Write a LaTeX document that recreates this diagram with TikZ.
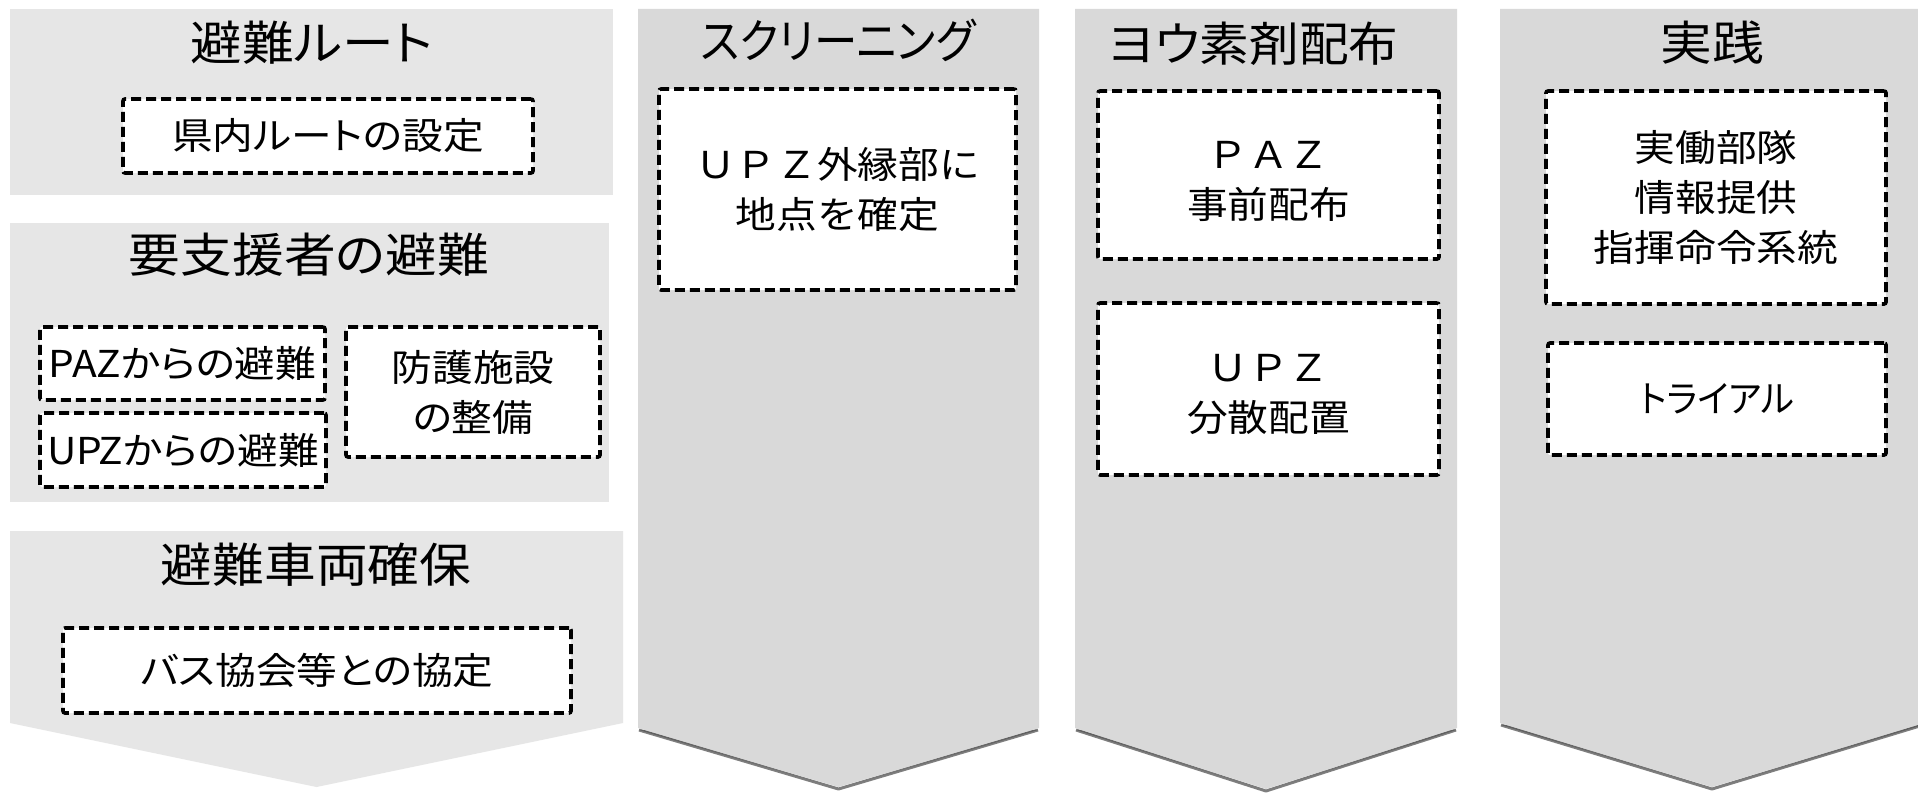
\documentclass[tikz,border=0pt]{standalone}
\usepackage{fontspec}
\newfontfamily\jp[FakeStretch=1.1]{Noto Sans CJK JP}
\newfontfamily\jpp[FakeStretch=1.1,RawFeature=+palt]{Noto Sans CJK JP}
\definecolor{panelA}{HTML}{E6E6E6}
\definecolor{panelB}{HTML}{D9D9D9}
\definecolor{shade}{HTML}{8C8C8C}
% left x, right x, top y, shoulder y, point y, colour, shadow(1/0)
\newcommand{\mychev}[7]{%
  \pgfmathsetmacro\cx{(#1+#2)/2}%
  \ifnum#7=1
    \draw[shade, line width=3pt, opacity=.5, line join=round] (#1+1,#4+2) -- (\cx,#5+2) -- (#2-1,#4+2);
  \fi
  \fill[#6] (#1,#3) -- (#2,#3) -- (#2,#4) -- (\cx,#5) -- (#1,#4) -- cycle;
}
\begin{document}
\begin{tikzpicture}[x=1pt,y=-1pt,
  dbox/.style={draw=black, fill=white, line width=3.6pt, dash pattern=on 10pt off 5pt,
    rounded corners=2pt, inner sep=0pt, align=center},
  ttl/.style={font=\jpp\fontsize{47}{47}\selectfont, inner sep=0pt},
  bt/.style={font=\jpp\fontsize{37}{50}\selectfont},
  btw/.style={font=\jp\fontsize{37}{50}\selectfont}
]
\useasboundingbox (0,0) rectangle (1918,792);
\fill[white] (0,0) rectangle (1918,792);
\begin{scope}
\clip (0,0) rectangle (1918,792);
% left column panels
\fill[panelA] (10,9) rectangle (613,195);
\fill[panelA] (10,223) rectangle (609,502);
\mychev{10}{623}{531}{723}{787}{panelA}{0}
% chevrons
\mychev{638}{1039}{9}{728}{787}{panelB}{1}
\mychev{1075}{1457}{9}{728}{789}{panelB}{1}
\mychev{1500}{1924}{9}{723}{787}{panelB}{1}
\end{scope}

% titles
\node[ttl] (t1) at (312,43) {避難ルート};
\node[ttl] (t2) at (309,255) {要支援者の避難};
\node[ttl] (t3) at (316,565) {避難車両確保};
\node[ttl] (t4) at (838,40) {\scalebox{0.84}[1]{スクリーニング}};
\node[ttl] (t5) at (1253,44) {\scalebox{0.96}[1]{ヨウ素剤配布}};
\node[ttl] (t6) at (1712,43) {実践};

% left column boxes
\node[dbox, bt, minimum width=410pt, minimum height=74pt] (b1) at (328,136) {県内ルートの設定};
\node[dbox, bt, minimum width=285pt, minimum height=73pt] (b2) at (182.5,363.5) {PAZからの避難};
\node[dbox, bt, minimum width=286pt, minimum height=74pt] (b3) at (183,450) {UPZからの避難};
\node[dbox, bt, minimum width=254pt, minimum height=130pt] (b4) at (473,392) {防護施設\\の整備};
\node[dbox, bt, minimum width=508pt, minimum height=85pt] (b5) at (317,670.5) {バス協会等との協定};

% screening
\node[dbox, btw, minimum width=357pt, minimum height=201pt] (b6) at (837.5,189.5) {ＵＰＺ外縁部に\\地点を確定};

% iodine
\node[dbox, minimum width=341pt, minimum height=168pt] (b7) at (1268.5,175) {};
\node[btw, align=center, inner sep=0pt] (b7t) at ([yshift=-6pt]b7.center) {ＰＡＺ\\事前配布};
\node[dbox, minimum width=341pt, minimum height=172pt] (b8) at (1268.5,389) {};
\node[btw, align=center, inner sep=0pt] (b8t) at ([yshift=-5pt]b8.center) {ＵＰＺ\\分散配置};

% practice
\node[dbox, bt, minimum width=340pt, minimum height=213pt] (b9) at (1716,197.5) {実働部隊\\情報提供\\指揮命令系統};
\node[dbox, bt, minimum width=338pt, minimum height=112pt] (b10) at (1717,399) {\scalebox{0.87}[1]{トライアル}};
\end{tikzpicture}
\end{document}
